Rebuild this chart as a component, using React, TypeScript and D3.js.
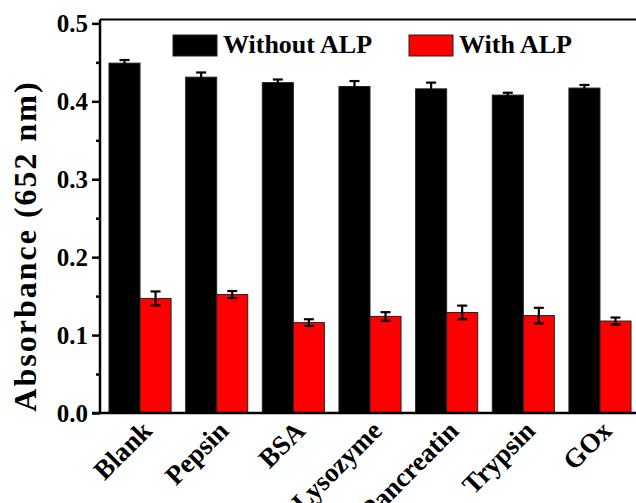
import React, { useEffect, useRef } from 'react'
import * as d3 from 'd3'

// Data
const categories = ['Blank', 'Pepsin', 'BSA', 'Lysozyme', 'Pancreatin', 'Trypsin', 'GOx']
const withoutALP = [0.449, 0.431, 0.424, 0.419, 0.416, 0.408, 0.417]
const withoutALPErr = [0.004, 0.006, 0.004, 0.007, 0.008, 0.003, 0.004]
const withALP = [0.147, 0.152, 0.116, 0.124, 0.129, 0.125, 0.118]
const withALPErr = [0.009, 0.0045, 0.0043, 0.0054, 0.0088, 0.01, 0.0045]
const seriesNames = ['Without ALP', 'With ALP']
const seriesColors = ['#000000', '#ff0000']
const yMajorTicks = [0, 0.1, 0.2, 0.3, 0.4, 0.5]
const yMinorTicks = [0.05, 0.15, 0.25, 0.35, 0.45]
const yTitle = 'Absorbance (652 nm)'

const W = 636
const H = 503
const FONT = '"Liberation Serif", "Times New Roman", serif'

const App = () => {
  const svgRef = useRef<SVGSVGElement>(null)

  useEffect(() => {
    const svg = d3.select(svgRef.current)
    svg.selectAll('*').remove()

    const left = 100
    const top = 19.5
    const bottom = 413

    const y = d3.scaleLinear().domain([0, 0.505]).range([bottom, top])
    const x = d3.scaleBand<string>()
      .domain(categories)
      .range([101.7, 638.3])
      .paddingInner(0.19)
      .paddingOuter(0.095)
    const sub = d3.scaleBand<number>().domain([0, 1]).range([0, x.bandwidth()])

    const series = [
      { vals: withoutALP, errs: withoutALPErr },
      { vals: withALP, errs: withALPErr },
    ]

    // bars + error bars
    series.forEach((s, si) => {
      const g = svg.append('g')
      g.selectAll('rect')
        .data(categories)
        .join('rect')
        .attr('x', (c) => x(c)! + sub(si)!)
        .attr('y', (c, i) => y(s.vals[i]))
        .attr('width', sub.bandwidth())
        .attr('height', (c, i) => y(0) - y(s.vals[i]))
        .attr('fill', seriesColors[si])
        .attr('stroke', '#222')
        .attr('stroke-width', 1)

      const eg = svg.append('g').attr('stroke', '#000').attr('stroke-width', 2.2)
      categories.forEach((c, i) => {
        const cx = x(c)! + sub(si)! + sub.bandwidth() / 2
        const hi = y(s.vals[i] + s.errs[i])
        const lo = y(s.vals[i] - s.errs[i])
        eg.append('line').attr('x1', cx).attr('x2', cx).attr('y1', hi).attr('y2', lo)
        eg.append('line').attr('x1', cx - 5).attr('x2', cx + 5).attr('y1', hi).attr('y2', hi)
        eg.append('line').attr('x1', cx - 5).attr('x2', cx + 5).attr('y1', lo).attr('y2', lo)
      })
    })

    // y axis
    const yAxis = svg.append('g')
      .attr('transform', `translate(${left},0)`)
      .call(d3.axisLeft(y).tickValues(yMajorTicks).tickFormat(d3.format('.1f')).tickSize(8).tickPadding(4))
    yAxis.select('.domain').remove()
    yAxis.selectAll('line').attr('stroke', '#000').attr('stroke-width', 2.5)
    yAxis.selectAll('text')
      .attr('font-family', FONT)
      .attr('font-weight', 'bold')
      .attr('font-size', 25)
      .attr('fill', '#000')
      .attr('dy', '0.34em')

    const yMinor = svg.append('g')
      .attr('transform', `translate(${left},0)`)
      .call(d3.axisLeft(y).tickValues(yMinorTicks).tickFormat(() => '').tickSize(4))
    yMinor.select('.domain').remove()
    yMinor.selectAll('line').attr('stroke', '#000').attr('stroke-width', 2.5)

    // frame
    const frame = svg.append('g').attr('stroke', '#000').attr('fill', 'none')
    frame.append('line').attr('x1', left).attr('x2', left).attr('y1', top).attr('y2', bottom).attr('stroke-width', 2.5)
    frame.append('line').attr('x1', left - 8).attr('x2', W).attr('y1', bottom).attr('y2', bottom).attr('stroke-width', 2.5)
    frame.append('line').attr('x1', left).attr('x2', W).attr('y1', top).attr('y2', top).attr('stroke-width', 2)

    // x labels
    svg.append('g')
      .selectAll('text')
      .data(categories)
      .join('text')
      .attr('transform', (c) => `translate(${x(c)! + x.bandwidth() / 2},${bottom + 6}) rotate(-45)`)
      .attr('text-anchor', 'end')
      .attr('dy', '0.7em')
      .attr('font-family', FONT)
      .attr('font-weight', 'bold')
      .attr('font-size', 27)
      .text((c) => c)

    // y title
    svg.append('text')
      .attr('transform', `translate(36,246) rotate(-90)`)
      .attr('text-anchor', 'middle')
      .attr('font-family', FONT)
      .attr('font-weight', 'bold')
      .attr('font-size', 32)
      .attr('letter-spacing', 2)
      .text(yTitle)

    // legend
    const legendX = [173, 409]
    seriesNames.forEach((name, i) => {
      svg.append('rect')
        .attr('x', legendX[i])
        .attr('y', 35)
        .attr('width', 44)
        .attr('height', 21)
        .attr('fill', seriesColors[i])
        .attr('stroke', '#222')
        .attr('stroke-width', 1)
      svg.append('text')
        .attr('x', legendX[i] + 50)
        .attr('y', 53)
        .attr('font-family', FONT)
        .attr('font-weight', 'bold')
        .attr('font-size', 26)
        .text(name)
    })
  }, [])

  return (
    <svg
      ref={svgRef}
      width={W}
      height={H}
      style={{ position: 'absolute', left: 0, top: 0, background: '#fff' }}
    />
  )
}

export default App
